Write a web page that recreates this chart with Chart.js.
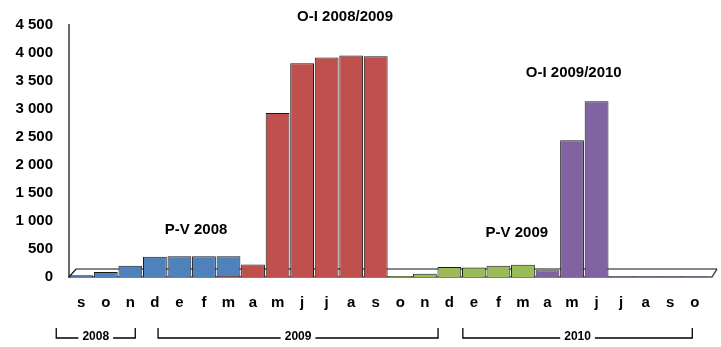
<!DOCTYPE html>
<html>
<head>
<meta charset="utf-8">
<script src="https://cdn.jsdelivr.net/npm/chart.js@4.4.1/dist/chart.umd.min.js"></script>
<style>
  html, body { margin: 0; padding: 0; background: #fff; }
  #wrap { width: 721px; height: 347px; }
</style>
</head>
<body>
<div id="wrap"><canvas id="myChart" width="721" height="347"></canvas></div>
<script>
// months sep 2008 .. oct 2010
var months = ['s','o','n','d','e','f','m','a','m','j','j','a','s','o','n','d','e','f','m','a','m','j','j','a','s','o'];
var _ = null;
var pv2008   = [30, 90, 200, 360, 370, 370, 370, _, _, _, _, _, _, _, _, _, _, _, _, _, _, _, _, _, _, _];
var oi2008   = [_, _, _, _, _, _, 20, 225, 2930, 3815, 3920, 3955, 3940, _, _, _, _, _, _, _, _, _, _, _, _, _];
var pv2009   = [_, _, _, _, _, _, _, _, _, _, _, _, _, 20, 60, 180, 170, 200, 220, _, _, _, _, _, _, _];
var oi2009   = [_, _, _, _, _, _, _, _, _, _, _, _, _, _, _, _, _, _, _, 120, 2440, 3140, 15, 15, 15, 15];
var yTicks = [0, 500, 1000, 1500, 2000, 2500, 3000, 3500, 4000, 4500];

var seasonLabels = ['P-V 2008', 'O-I 2008/2009', 'P-V 2009', 'O-I 2009/2010'];
var yearLabels = ['2008', '2009', '2010'];

var FONT = '"Liberation Sans", Arial, sans-serif';

function fmt(v) {
    var s = String(v);
    if (s.length > 3) s = s.slice(0, s.length - 3) + ' ' + s.slice(-3);
    return s;
}

var extras = {
    id: 'extras',
    beforeDatasetsDraw: function (chart) {
        var c = chart.ctx, a = chart.chartArea;
        c.save();
        c.lineWidth = 1.5;
        c.strokeStyle = '#555';
        c.beginPath();
        c.moveTo(a.left, a.bottom);
        c.lineTo(a.right + 5, a.bottom);
        c.lineTo(a.right + 10, a.bottom - 8);
        c.stroke();
        c.strokeStyle = '#111';
        c.lineWidth = 1.2;
        c.beginPath();
        c.moveTo(a.left, a.bottom);
        c.lineTo(a.left + 7, a.bottom - 8);
        c.lineTo(a.right + 10, a.bottom - 8);
        c.stroke();
        c.restore();
    },
    afterDatasetsDraw: function (chart) {
        var c = chart.ctx, x = chart.scales.x, y = chart.scales.y;
        c.save();
        c.fillStyle = '#000';
        c.textAlign = 'center';
        c.textBaseline = 'middle';
        c.font = 'bold 15px ' + FONT;
        // label anchors: [category index, value]
        var spots = [[4.68, 840], [10.75, 4640], [17.75, 780], [20.07, 3640]];
        seasonLabels.forEach(function (t, i) {
            c.fillText(t, x.getPixelForValue(spots[i][0]), y.getPixelForValue(spots[i][1]));
        });

        // year brackets under the month labels
        var spans = [[-1.02, 2.2], [3.13, 14.54], [15.55, 24.9]];
        var ly = 338, ty = 328;
        c.font = 'bold 12px ' + FONT;
        c.strokeStyle = '#000';
        c.lineWidth = 1.3;
        yearLabels.forEach(function (t, i) {
            var x0 = x.getPixelForValue(spans[i][0]);
            var x1 = x.getPixelForValue(spans[i][1]);
            var mid = (x0 + x1) / 2;
            var hw = c.measureText(t).width / 2 + 4;
            c.beginPath();
            c.moveTo(x0, ty); c.lineTo(x0, ly); c.lineTo(mid - hw, ly);
            c.moveTo(mid + hw, ly); c.lineTo(x1, ly); c.lineTo(x1, ty);
            c.stroke();
            c.fillText(t, mid, ly - 1);
        });
        c.restore();
    }
};

var ctx = document.getElementById('myChart').getContext('2d');
var myChart = new Chart(ctx, {
    type: 'bar',
    data: {
        labels: months,
        datasets: [
            { label: 'O-I 2008/2009', data: oi2008, backgroundColor: '#C0504D', borderColor: '#1a1a1a', borderWidth: 1, order: 1 },
            { label: 'P-V 2008', data: pv2008, backgroundColor: '#4F81BD', borderColor: '#1a1a1a', borderWidth: 1, order: 2 },
            { label: 'P-V 2009', data: pv2009, backgroundColor: '#9BBB59', borderColor: '#1a1a1a', borderWidth: 1, order: 3 },
            { label: 'O-I 2009/2010', data: oi2009, backgroundColor: '#8064A2', borderColor: '#1a1a1a', borderWidth: 1, order: 4 }
        ]
    },
    options: {
        responsive: false,
        animation: false,
        events: [],
        barPercentage: 0.97,
        categoryPercentage: 1,
        layout: { padding: { top: 25, right: 14, bottom: 0, left: 0 } },
        plugins: { legend: { display: false }, tooltip: { enabled: false } },
        scales: {
            x: {
                stacked: true,
                grid: { display: false, drawTicks: false },
                border: { display: false },
                ticks: { color: '#000', padding: 17, font: { family: FONT, size: 15, weight: 'bold' }, maxRotation: 0, autoSkip: false },
                afterFit: function (s) { s.height = 70; }
            },
            y: {
                min: 0,
                max: 4500,
                grid: { display: false, drawTicks: false },
                border: { display: true, color: '#6a6a6a', width: 2 },
                afterBuildTicks: function (s) { s.ticks = yTicks.map(function (v) { return { value: v }; }); },
                ticks: {
                    color: '#000', padding: 16,
                    font: { family: FONT, size: 15, weight: 'bold' },
                    callback: function (v) { return fmt(v); }
                },
                afterFit: function (s) { s.width = 69; }
            }
        }
    },
    plugins: [extras]
});
</script>
</body>
</html>
